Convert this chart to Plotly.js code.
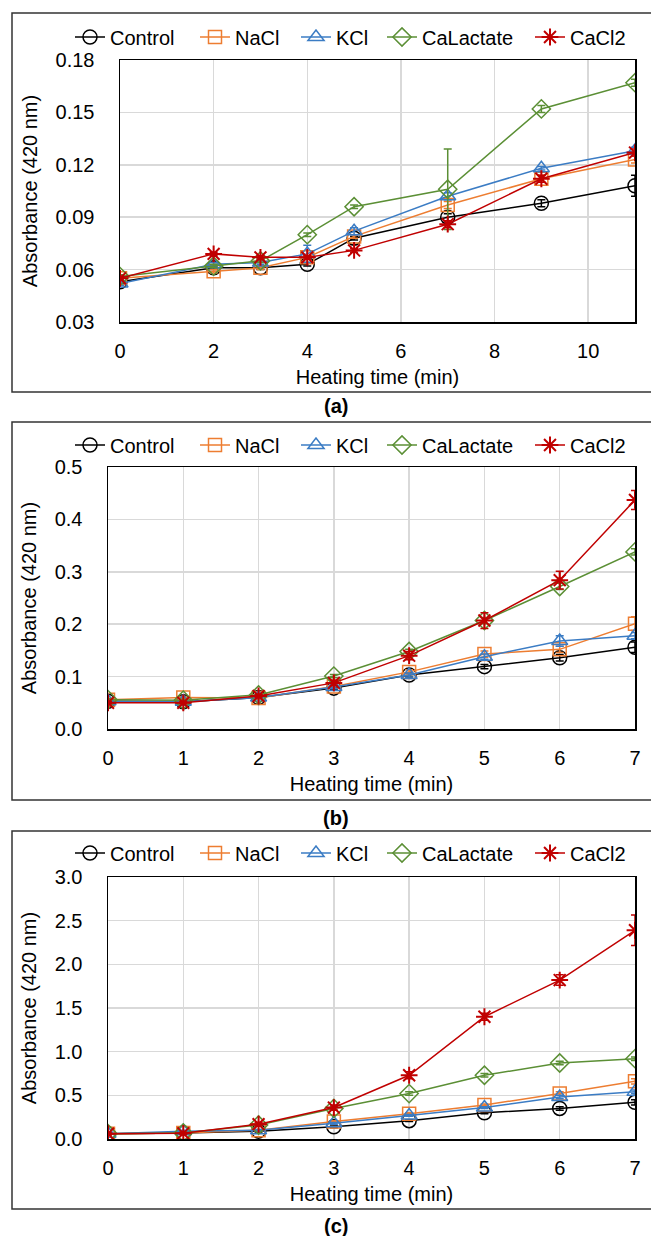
<!DOCTYPE html>
<html>
<head>
<meta charset="utf-8">
<script src="https://cdn.plot.ly/plotly-3.0.1.min.js"></script>
<style>html,body{margin:0;padding:0;background:#fff;}#chart{width:651px;height:1236px;}</style>
</head>
<body>
<div id="chart"></div>
<script>
// ---------- data ----------
const seriesNames = ["Control", "NaCl", "KCl", "CaLactate", "CaCl2"];

// panel (a)
const xA = [0, 2, 3, 4, 5, 7, 9, 11];
const aControl = [0.053, 0.061, 0.061, 0.063, 0.078, 0.090, 0.098, 0.108];
const aNaCl    = [0.055, 0.059, 0.061, 0.067, 0.079, 0.097, 0.112, 0.123];
const aKCl     = [0.052, 0.063, 0.064, 0.069, 0.082, 0.102, 0.118, 0.128];
const aCaLac   = [0.056, 0.062, 0.065, 0.080, 0.096, 0.106, 0.152, 0.167];
const aCaCl2   = [0.055, 0.069, 0.067, 0.067, 0.071, 0.086, 0.112, 0.127];
const aControlErr = [0.001, 0.001, 0.001, 0.001, 0.001, 0.002, 0.002, 0.006];
const aNaClErr    = [0.001, 0.001, 0.001, 0.001, 0.001, 0.002, 0.002, 0.002];
const aKClErr     = [0.001, 0.001, 0.001, 0.005, 0.002, 0.002, 0.001, 0.002];
const aCaLacErr   = [0.001, 0.001, 0.001, 0.001, 0.001, 0.023, 0.002, 0.002];
const aCaCl2Err   = [0.001, 0.001, 0.001, 0.001, 0.001, 0.002, 0.002, 0.002];

// panel (b)
const xB = [0, 1, 2, 3, 4, 5, 6, 7];
const bControl = [0.053, 0.052, 0.060, 0.078, 0.103, 0.119, 0.136, 0.156];
const bNaCl    = [0.056, 0.060, 0.059, 0.081, 0.109, 0.143, 0.152, 0.201];
const bKCl     = [0.053, 0.052, 0.060, 0.080, 0.103, 0.138, 0.168, 0.178];
const bCaLac   = [0.056, 0.055, 0.065, 0.101, 0.148, 0.207, 0.272, 0.338];
const bCaCl2   = [0.050, 0.050, 0.063, 0.088, 0.140, 0.207, 0.284, 0.437];
const bControlErr = [0.002, 0.002, 0.002, 0.003, 0.004, 0.004, 0.006, 0.010];
const bNaClErr    = [0.002, 0.002, 0.002, 0.003, 0.004, 0.006, 0.006, 0.013];
const bKClErr     = [0.002, 0.002, 0.002, 0.003, 0.004, 0.005, 0.010, 0.006];
const bCaLacErr   = [0.002, 0.002, 0.002, 0.003, 0.004, 0.006, 0.006, 0.006];
const bCaCl2Err   = [0.002, 0.002, 0.003, 0.005, 0.008, 0.015, 0.017, 0.018];

// panel (c)
const xC = [0, 1, 2, 3, 4, 5, 6, 7];
const cControl = [0.06, 0.07, 0.09, 0.14, 0.21, 0.30, 0.35, 0.42];
const cNaCl    = [0.06, 0.07, 0.10, 0.20, 0.29, 0.39, 0.52, 0.66];
const cKCl     = [0.06, 0.09, 0.10, 0.18, 0.27, 0.36, 0.48, 0.54];
const cCaLac   = [0.06, 0.07, 0.16, 0.35, 0.52, 0.73, 0.87, 0.92];
const cCaCl2   = [0.06, 0.065, 0.17, 0.36, 0.73, 1.40, 1.82, 2.39];
const cControlErr = [0.01, 0.01, 0.01, 0.01, 0.01, 0.01, 0.02, 0.03];
const cNaClErr    = [0.01, 0.01, 0.01, 0.01, 0.01, 0.01, 0.02, 0.03];
const cKClErr     = [0.01, 0.01, 0.01, 0.01, 0.01, 0.01, 0.02, 0.02];
const cCaLacErr   = [0.01, 0.01, 0.01, 0.02, 0.02, 0.02, 0.02, 0.02];
const cCaCl2Err   = [0.01, 0.01, 0.02, 0.03, 0.04, 0.04, 0.06, 0.175];

const xTitle = "Heating time (min)";
const yTitle = "Absorbance (420 nm)";
const panelLabels = ["(a)", "(b)", "(c)"];

// ---------- styles ----------
const colors  = ["#000000", "#ED7D31", "#3B7CC4", "#5B8F35", "#C00000"];
const symbols = ["circle-open", "square-open", "triangle-up-open", "diamond-open", "asterisk-open"];
const sizes   = [14, 13, 14, 14, 14];
const legendLineStart = [74, 199, 300, 386, 534];

const W = 651, H = 1236;
const px = v => v / W;
const py = v => 1 - v / H;

const panels = [
  { x: xA, ys: [aControl, aNaCl, aKCl, aCaLac, aCaCl2], es: [aControlErr, aNaClErr, aKClErr, aCaLacErr, aCaCl2Err],
    plot: [120, 635, 60, 322], box: [13, 392], legendY: 37, labelY: 406,
    xrange: [0, 11], xdtick: 2, yrange: [0.03, 0.18], ydtick: 0.03, yfmt: ".2f" },
  { x: xB, ys: [bControl, bNaCl, bKCl, bCaLac, bCaCl2], es: [bControlErr, bNaClErr, bKClErr, bCaLacErr, bCaCl2Err],
    plot: [108, 635, 467, 729], box: [422, 800], legendY: 445, labelY: 818,
    xrange: [0, 7], xdtick: 1, yrange: [0, 0.5], ydtick: 0.1, yfmt: ".1f" },
  { x: xC, ys: [cControl, cNaCl, cKCl, cCaLac, cCaCl2], es: [cControlErr, cNaClErr, cKClErr, cCaLacErr, cCaCl2Err],
    plot: [108, 635, 877, 1139], box: [831, 1209], legendY: 853, labelY: 1226,
    xrange: [0, 7], xdtick: 1, yrange: [0, 3.0], ydtick: 0.5, yfmt: ".1f" }
];

const FONT = "Liberation Sans, Arial, sans-serif";
const traces = [];
const layout = {
  width: W, height: H,
  margin: { l: 0, r: 0, t: 0, b: 0 },
  paper_bgcolor: "#ffffff", plot_bgcolor: "#ffffff",
  font: { family: FONT, size: 20, color: "#000000" },
  showlegend: true,
  shapes: [], annotations: []
};

let legendCount = 0;
panels.forEach((p, i) => {
  const n = i === 0 ? "" : String(i + 1);
  p.ys.forEach((ys, k) => {
    legendCount += 1;
    const legendKey = legendCount === 1 ? "legend" : "legend" + legendCount;
    traces.push({
      type: "scatter", mode: "lines+markers",
      x: p.x, y: ys, name: seriesNames[k],
      xaxis: "x" + n, yaxis: "y" + n, legend: legendKey,
      line: { color: colors[k], width: 1.5 },
      marker: { symbol: symbols[k], size: sizes[k], color: colors[k], line: { color: colors[k], width: k === 4 ? 2 : 1.5 } },
      error_y: { type: "data", array: p.es[k], visible: true, color: colors[k], thickness: 1.5, width: 4 },
      hoverinfo: "x+y+name"
    });
    layout[legendKey] = {
      orientation: "h", x: px(legendLineStart[k] - 4), xanchor: "left", y: py(p.legendY), yanchor: "middle",
      font: { size: 20 }, bgcolor: "rgba(0,0,0,0)", borderwidth: 0,
      itemclick: false, itemdoubleclick: false
    };
  });
  const [l, r, t, b] = p.plot;
  layout["xaxis" + n] = {
    domain: [px(l), px(r)], anchor: "y" + n, range: p.xrange, dtick: p.xdtick, tick0: 0,
    showgrid: true, gridcolor: "#D9D9D9", gridwidth: 1.5, zeroline: false,
    showline: true, mirror: true, linecolor: "#000000", linewidth: 1.5,
    ticks: "", ticklabelstandoff: 10, tickfont: { size: 20 }, automargin: false,
    title: { text: xTitle, font: { size: 20 }, standoff: 9 }
  };
  layout["yaxis" + n] = {
    domain: [py(b), py(t)], anchor: "x" + n, range: p.yrange, dtick: p.ydtick, tick0: 0,
    tickformat: p.yfmt,
    showgrid: true, gridcolor: "#D9D9D9", gridwidth: 1.5, zeroline: false,
    showline: true, mirror: true, linecolor: "#000000", linewidth: 1.5,
    ticks: "", ticklabelstandoff: 20, tickfont: { size: 20 }, automargin: false,
    title: { text: yTitle, font: { size: 20 }, standoff: 12 }
  };
  layout.shapes.push({
    type: "rect", xref: "paper", yref: "paper",
    x0: px(12), x1: 1.05, y0: py(p.box[1]), y1: py(p.box[0]),
    line: { color: "#333333", width: 1.5 }, fillcolor: "rgba(0,0,0,0)", layer: "below"
  });
  layout.annotations.push({
    xref: "paper", yref: "paper", x: px(336), y: py(p.labelY), xanchor: "center", yanchor: "middle",
    text: "<b>" + panelLabels[i] + "</b>", showarrow: false, font: { size: 20, color: "#000000" }
  });
});

Plotly.newPlot("chart", traces, layout, { staticPlot: true, displayModeBar: false });
</script>
</body>
</html>
